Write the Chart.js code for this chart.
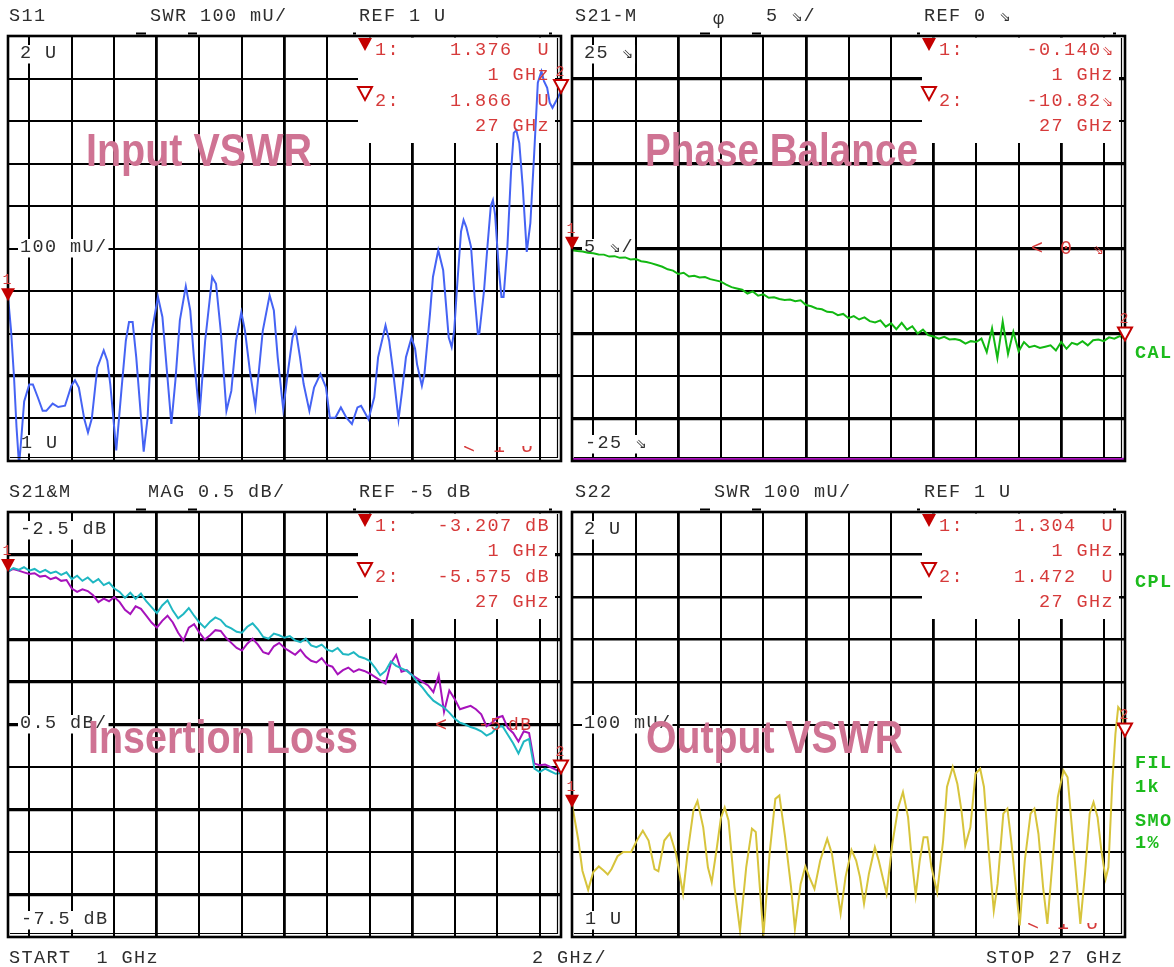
<!DOCTYPE html>
<html><head><meta charset="utf-8">
<script src="https://cdn.jsdelivr.net/npm/chart.js@4/dist/chart.umd.min.js"></script>
<style>
html,body{margin:0;padding:0;background:#fff;}
#page{position:relative;width:1174px;height:967px;overflow:hidden;background:#fff;}
canvas{position:absolute;z-index:1;}
.t{position:absolute;z-index:2;white-space:pre;font-family:"Liberation Mono","DejaVu Sans Mono",monospace;font-size:18.5px;letter-spacing:1.4px;color:#2e2e2e;line-height:1;}
.r{color:#d63a3a;}
.g{color:#1cbb1c;font-weight:bold;}
.big{font-family:"Liberation Sans",Arial,sans-serif;font-weight:bold;font-size:46px;letter-spacing:0;color:#cf7393;transform-origin:0 0;}
.clip{position:absolute;z-index:2;overflow:hidden;}
</style></head><body><div id="page"></div>
<script>
// ================= DATA =================
const freqGridGHz = [2,4,6,8,10,12,14,16,18,20,22,24,26];
const swrGridU = [1.1,1.2,1.3,1.4,1.5,1.6,1.7,1.8,1.9];
const phaseGridDeg = [-20,-15,-10,-5,0,5,10,15,20];
const magGridDb = [-7,-6.5,-6,-5.5,-5,-4.5,-4,-3.5,-3];

// Input VSWR (S11)
const s11Freq = [1,1.14,1.28,1.4,1.52,1.62,1.76,2,2.17,2.4,
 2.63,2.8,3.1,3.36,3.68,3.98,4.15,4.33,4.59,4.76,
 4.94,5.2,5.5,5.67,5.81,6.09,6.33,6.54,6.69,6.86,
 7.03,7.38,7.56,7.77,8.05,8.26,8.47,8.68,8.87,9.08,
 9.36,9.57,9.74,10,10.27,10.6,10.78,11,11.27,11.5,
 11.72,11.97,12.14,12.37,12.63,12.98,13.3,13.5,13.68,13.94,
 14.17,14.38,14.52,14.73,14.9,15.17,15.39,15.69,15.95,16.13,
 16.39,16.65,16.91,17.17,17.43,17.6,17.95,18.22,18.4,18.75,
 18.92,19.1,19.36,19.53,19.71,19.97,20.14,20.23,20.46,20.58,
 20.84,20.98,21.23,21.46,21.72,21.86,21.98,22.1,22.3,22.42,
 22.55,22.77,22.94,23.09,23.16,23.38,23.55,23.7,23.8,23.9,
 24.08,24.2,24.3,24.48,24.65,24.78,24.9,25.04,25.2,25.39,
 25.56,25.74,25.91,26.08,26.2,26.35,26.47,26.6,26.8,27];
const s11Swr = [1.386,1.31,1.2,1.08,0.99,1.05,1.14,1.18,1.18,1.15,
 1.118,1.118,1.135,1.127,1.13,1.177,1.19,1.173,1.098,1.067,
 1.1,1.22,1.26,1.236,1.18,1.025,1.165,1.283,1.327,1.327,
 1.244,1.022,1.1,1.307,1.386,1.339,1.213,1.087,1.189,1.331,
 1.411,1.354,1.244,1.106,1.283,1.433,1.417,1.307,1.118,1.165,
 1.283,1.35,1.307,1.213,1.127,1.307,1.39,1.354,1.244,1.122,
 1.213,1.291,1.311,1.244,1.181,1.118,1.173,1.205,1.173,1.102,
 1.102,1.126,1.102,1.087,1.126,1.13,1.098,1.15,1.244,1.319,
 1.283,1.213,1.098,1.165,1.244,1.29,1.264,1.228,1.177,1.205,
 1.346,1.433,1.496,1.449,1.291,1.268,1.307,1.4,1.54,1.567,
 1.55,1.504,1.386,1.299,1.3,1.4,1.51,1.6,1.614,1.58,
 1.449,1.386,1.386,1.504,1.68,1.772,1.778,1.748,1.646,1.492,
 1.56,1.724,1.89,1.917,1.894,1.878,1.843,1.831,1.85,1.87];

// common sweep for phase / insertion loss
const sweepFreqGHz = [1,1.25,1.5,1.75,2,2.25,2.5,2.75,3,3.25,3.5,3.75,4,4.25,4.5,4.75,5,5.25,5.5,5.75,
 6,6.25,6.5,6.75,7,7.25,7.5,7.75,8,8.25,8.5,8.75,9,9.25,9.5,9.75,10,10.25,10.5,10.75,
 11,11.25,11.5,11.75,12,12.25,12.5,12.75,13,13.25,13.5,13.75,14,14.25,14.5,14.75,15,15.25,15.5,15.75,
 16,16.25,16.5,16.75,17,17.25,17.5,17.75,18,18.25,18.5,18.75,19,19.25,19.5,19.75,20,20.25,20.5,20.75,
 21,21.25,21.5,21.75,22,22.25,22.5,22.75,23,23.25,23.5,23.75,24,24.25,24.5,24.75,25,25.25,25.5,25.75,
 26,26.25,26.5,26.75,27];

// Phase balance (S21-M phase, degrees)
const phaseDeg = [-0.20,-0.30,-0.35,-0.50, -0.55,-0.70,-0.72,-0.95, -0.90,-1.10,-1.05,-1.30, -1.25,-1.50,-1.60,-1.75,
 -1.95,-2.15,-2.45,-2.60, -3.00,-2.85,-3.30,-3.20, -3.40,-3.35,-3.60,-3.75, -3.90,-4.25,-4.55,-4.70,
 -4.85,-5.30,-5.05,-5.55, -5.40,-5.80,-5.75,-5.95, -6.05,-6.00,-6.20,-6.10, -6.65,-6.80,-7.05,-7.15,
 -7.45,-7.50,-7.85,-7.70, -8.20,-7.95,-8.35,-8.10, -8.55,-8.70,-8.45,-9.20, -8.80,-9.50,-8.75,-9.55,
 -9.15,-10.00,-9.55,-10.20, -10.35,-10.60,-10.40,-10.70, -10.65,-10.80,-11.20,-10.90, -11.00,-10.60,-12.20,-9.40,
 -12.90,-8.60,-12.40,-9.80, -12.10,-11.00,-11.60,-11.45, -11.70,-11.55,-11.40,-12.00, -11.00,-11.80,-11.10,-11.30,
 -10.90,-11.40,-10.80,-10.70, -10.90,-10.45,-10.60,-10.30, -10.60];
const refTraceFreq = [1, 27];
const refTraceDeg = [-24.8, -24.8];

// Insertion loss (dB)
const lossCyanDb = [-3.20,-3.16,-3.18,-3.15, -3.19,-3.17,-3.21,-3.18, -3.22,-3.20,-3.24,-3.21, -3.29,-3.25,-3.31,-3.27,
 -3.33,-3.29,-3.36,-3.33, -3.40,-3.44,-3.51,-3.45, -3.52,-3.46,-3.55,-3.62, -3.69,-3.60,-3.54,-3.66,
 -3.75,-3.70,-3.63,-3.72, -3.80,-3.86,-3.79,-3.74, -3.77,-3.84,-3.87,-3.91, -3.92,-3.85,-3.81,-3.88,
 -3.97,-3.99,-3.93,-3.95, -3.98,-3.96,-4.01,-4.03, -3.99,-4.07,-4.09,-4.06, -4.12,-4.14,-4.10,-4.17,
 -4.18,-4.15,-4.20,-4.22, -4.25,-4.33,-4.42,-4.37, -4.26,-4.31,-4.34,-4.37, -4.42,-4.50,-4.57,-4.65,
 -4.72,-4.76,-4.80,-4.86, -4.93,-4.98,-5.00,-5.03, -5.05,-5.08,-5.13,-5.10, -5.03,-5.02,-5.12,-5.22,
 -5.34,-5.20,-5.17,-5.52, -5.56,-5.52,-5.55,-5.58, -5.57];
const lossMagentaDb = [-3.20,-3.17,-3.19,-3.21, -3.23,-3.22,-3.26,-3.25, -3.29,-3.27,-3.31,-3.30, -3.40,-3.44,-3.41,-3.43,
 -3.48,-3.56,-3.52,-3.55, -3.50,-3.56,-3.65,-3.70, -3.61,-3.64,-3.72,-3.80, -3.86,-3.78,-3.72,-3.80,
 -3.92,-4.01,-3.86,-3.82, -3.92,-4.00,-3.95,-3.89, -3.90,-3.98,-4.04,-4.10, -4.13,-4.05,-3.99,-4.06,
 -4.15,-4.17,-4.08,-4.04, -4.10,-4.14,-4.18,-4.12, -4.20,-4.25,-4.27,-4.22, -4.30,-4.32,-4.41,-4.36,
 -4.33,-4.38,-4.35,-4.37, -4.40,-4.44,-4.48,-4.52, -4.28,-4.18,-4.38,-4.36, -4.42,-4.46,-4.50,-4.54,
 -4.62,-4.42,-4.85,-4.60, -4.70,-4.82,-4.80,-4.78, -4.82,-4.88,-5.02,-4.98, -4.92,-4.90,-5.04,-5.10,
 -5.20,-5.08,-5.10,-5.46, -5.48,-5.47,-5.50,-5.53, -5.56];

// Output VSWR (S22)
const s22Freq = [1,1.3,1.49,1.76,2,2.26,2.5,2.68,2.86,3.14,
 3.41,3.78,4.05,4.33,4.6,4.88,5.06,5.34,5.6,5.89,
 6.22,6.44,6.71,6.9,7.17,7.39,7.57,7.81,8,8.18,
 8.36,8.64,8.9,9.19,9.46,9.64,9.83,10,10.29,10.56,
 10.75,11.02,11.3,11.48,11.75,11.97,12.16,12.4,12.67,13,
 13.22,13.4,13.63,13.86,14.14,14.36,14.54,14.73,14.96,15.24,
 15.42,15.79,16.06,16.34,16.56,16.8,16.98,17.16,17.35,17.53,
 17.71,17.9,18.17,18.45,18.63,18.9,19.12,19.31,19.49,19.73,
 19.97,20.19,20.37,20.59,20.83,21.01,21.28,21.47,21.65,21.87,
 22.05,22.29,22.56,22.74,22.93,23.15,23.35,23.57,23.84,24.11,
 24.3,24.53,24.75,24.9,25.12,25.34,25.52,25.71,25.89,26.09,
 26.22,26.4,26.55,26.68,26.8,26.97];
const s22Swr = [1.313,1.227,1.156,1.111,1.153,1.166,1.156,1.147,1.16,1.19,
 1.2,1.2,1.227,1.25,1.227,1.16,1.155,1.227,1.244,1.196,
 1.102,1.2,1.298,1.32,1.258,1.164,1.129,1.21,1.28,1.305,
 1.274,1.117,1.015,1.164,1.255,1.247,1.117,1.003,1.196,1.325,
 1.333,1.235,1.117,1.019,1.125,1.166,1.141,1.113,1.18,1.231,
 1.196,1.133,1.055,1.141,1.205,1.18,1.141,1.078,1.149,1.211,
 1.18,1.102,1.219,1.305,1.341,1.282,1.18,1.098,1.18,1.235,
 1.235,1.164,1.105,1.227,1.353,1.4,1.36,1.298,1.215,1.258,
 1.384,1.396,1.353,1.203,1.062,1.125,1.29,1.302,1.227,1.117,
 1.027,1.18,1.29,1.302,1.243,1.117,1.031,1.164,1.329,1.392,
 1.376,1.243,1.117,1.031,1.149,1.29,1.317,1.282,1.203,1.137,
 1.164,1.36,1.478,1.541,1.533,1.5];

// Marker readouts
const markerFreq = [1, 27];
const s11Markers = [1.376, 1.866];
const phaseMarkers = [-0.140, -10.82];
const lossMarkers = [-3.207, -5.575];
const s22Markers = [1.304, 1.472];

// ================= RENDER =================
const page = document.getElementById('page');
const PAD = 16;

function pts(xs, ys){ return xs.map((x,i)=>({x:x, y:ys[i]})); }

// ---------- text helpers ----------
function T(str, x, base, cls, parent, size){
  const d = document.createElement('div');
  d.className = 't ' + (cls||'');
  d.textContent = str;
  if (size) d.style.fontSize = size+'px';
  (parent||page).appendChild(d);
  const m = document.createElement('span');
  m.style.cssText = 'display:inline-block;width:0;height:0;';
  d.appendChild(m);
  d.style.left = x+'px';
  d.style.top = (base - m.offsetTop)+'px';
  return d;
}
function Clip(str, x, base, y0, y1, cls){
  const w = document.createElement('div');
  w.className = 'clip';
  w.style.cssText = 'left:'+x+'px;top:'+y0+'px;width:30px;height:'+(y1-y0)+'px;';
  page.appendChild(w);
  T(str, 0, base-y0, cls, w, 20);
}
function Big(str, x, base, width){
  const d = T(str, x, base, 'big');
  const w = d.getBoundingClientRect().width;
  d.style.transform = 'scaleX('+(width/w)+')';
}
function fmt(v){ return Math.abs(v) >= 10 ? v.toFixed(2) : v.toFixed(3); }

const panels = [
  { key:'s11', left:8, top:36, w:553, h:425, ymin:1, ymax:2, grid:swrGridU, thickY:[1.2], thickX:[8,14,20],
    markers:s11Markers, scaleLabels:['2 U','100 mU/','1 U'], unit:'  U',
    datasets:[{data:pts(s11Freq,s11Swr), color:'#4563f4'}] },
  { key:'phase', left:572, top:36, w:553, h:425, ymin:-25, ymax:25, grid:phaseGridDeg, thickY:[20,10,0,-10,-20], thickX:[6,12,18,24],
    markers:phaseMarkers, scaleLabels:['25 ⇘','5 ⇘/','-25 ⇘'], unit:'⇘',
    datasets:[{data:pts(sweepFreqGHz,phaseDeg), color:'#12b812'},{data:pts(refTraceFreq,refTraceDeg), color:'#b010c4', width:3}] },
  { key:'loss', left:8, top:512, w:553, h:425, ymin:-7.5, ymax:-2.5, grid:magGridDb, thickY:[-3,-4,-4.5,-5,-6,-7], thickX:[8,14,20],
    markers:lossMarkers, scaleLabels:['-2.5 dB','0.5 dB/','-7.5 dB'], unit:' dB',
    datasets:[{data:pts(sweepFreqGHz,lossCyanDb), color:'#1fb7c2'},{data:pts(sweepFreqGHz,lossMagentaDb), color:'#a612bb'}] },
  { key:'s22', left:572, top:512, w:553, h:425, ymin:1, ymax:2, grid:swrGridU, thickY:[1.6,1.7,1.8,1.9], thickW:2.6, thickX:[6,12,18,24],
    markers:s22Markers, scaleLabels:['2 U','100 mU/','1 U'], unit:'  U',
    datasets:[{data:pts(s22Freq,s22Swr), color:'#d7c43c'}] }
];

// scale labels inside panels (white backing drawn on the canvas, under traces)
panels.forEach(p=>{
  const ds = [
    T(p.scaleLabels[0], p.left+12, p.top+22),
    T(p.scaleLabels[1], p.left+12, p.top+216),
    T(p.scaleLabels[2], p.left+13, p.top+412)
  ];
  p.labelRects = ds.map(d=>{
    const r = d.getBoundingClientRect();
    return {x:r.left-2-(p.left-PAD), y:r.top-(p.top-PAD), w:r.width+3, h:r.height};
  });
});

function drawTri(ctx, px, py, filled){
  ctx.beginPath();
  ctx.moveTo(px-7, py-13); ctx.lineTo(px+7, py-13); ctx.lineTo(px, py); ctx.closePath();
  if (filled){ ctx.fillStyle='#c40000'; ctx.fill(); }
  else { ctx.fillStyle='#fff'; ctx.fill(); ctx.strokeStyle='#c40000'; ctx.lineWidth=2; ctx.stroke(); }
}

const decorPlugin = {
  id:'decor',
  beforeDatasetsDraw(chart, args, o){
    const {ctx, chartArea:a} = chart;
    ctx.save();
    ctx.fillStyle='#fff';
    ctx.fillRect(a.left+350, a.top+1.5, 197, 105.5);
    (o.labels||[]).forEach(r=>ctx.fillRect(r.x, r.y, r.w, r.h));
    ctx.restore();
  },
  afterDatasetsDraw(chart, args, o){
    const {ctx, chartArea:a, scales} = chart;
    ctx.save();
    ctx.strokeStyle='#000';
    ctx.lineWidth=2.6;
    ctx.strokeRect(a.left, a.top, a.right-a.left, a.bottom-a.top);
    ctx.lineWidth=1.2;
    ctx.beginPath();
    ctx.moveTo(a.right-3.5, a.top+2); ctx.lineTo(a.right-3.5, a.bottom-3.5); ctx.lineTo(a.left+2, a.bottom-3.5);
    ctx.stroke();
    ctx.fillStyle='#000';
    [[128,10],[180,9],[345,3],[541,3]].forEach(([dx,w])=>ctx.fillRect(a.left+dx, a.top-3.5, w, 2));
    drawTri(ctx, a.left+357, a.top+15, true);
    drawTri(ctx, a.left+357, a.top+64, false);
    o.markers.forEach((v,i)=>{
      drawTri(ctx, scales.x.getPixelForValue(markerFreq[i]), scales.y.getPixelForValue(v), i===0);
    });
    ctx.restore();
  }
};

function makePanel(p){
  const c = document.createElement('canvas');
  c.width = p.w + 2*PAD; c.height = p.h + 2*PAD;
  c.style.left = (p.left-PAD)+'px'; c.style.top = (p.top-PAD)+'px';
  c.style.width = c.width+'px'; c.style.height = c.height+'px';
  page.appendChild(c);
  return new Chart(c, {
    type:'line',
    data:{ datasets: p.datasets.map(d=>({
      data:d.data, borderColor:d.color, borderWidth:d.width||2, pointRadius:0,
      tension:0, fill:false, parsing:false, normalized:true
    })) },
    options:{
      responsive:false, animation:false, devicePixelRatio:1,
      layout:{padding:PAD},
      plugins:{legend:{display:false}, tooltip:{enabled:false}, decor:{markers:p.markers, labels:p.labelRects}},
      scales:{
        x:{ type:'linear', min:1, max:27,
          afterBuildTicks: s=>{ s.ticks = freqGridGHz.map(v=>({value:v})); },
          afterFit: s=>{ s.height = 0; },
          ticks:{display:false}, border:{display:false},
          grid:{color:'#000', drawTicks:false, lineWidth: ctx => (p.thickX.includes(ctx.tick && ctx.tick.value) ? 2.8 : 2)} },
        y:{ type:'linear', min:p.ymin, max:p.ymax,
          afterBuildTicks: s=>{ s.ticks = p.grid.map(v=>({value:v})); },
          afterFit: s=>{ s.width = 0; },
          ticks:{display:false}, border:{display:false},
          grid:{color:'#000', drawTicks:false, lineWidth: ctx => (p.thickY.includes(ctx.tick && ctx.tick.value) ? (p.thickW||3.2) : 2)} }
      }
    },
    plugins:[decorPlugin]
  });
}

const charts = panels.map(makePanel);

// headers / footers
T('S11', 9, 21); T('SWR 100 mU/', 150, 21); T('REF 1 U', 359, 21);
T('S21-M', 575, 21); T('φ', 713, 24); T('5 ⇘/', 766, 21); T('REF 0 ⇘', 924, 21);
T('S21&M', 9, 497); T('MAG 0.5 dB/', 148, 497); T('REF -5 dB', 359, 497);
T('S22', 575, 497); T('SWR 100 mU/', 714, 497); T('REF 1 U', 924, 497);
T('START  1 GHz', 9, 963); T('2 GHz/', 532, 963); T('STOP 27 GHz', 986, 963);

// marker readouts + marker numbers
panels.forEach((p,i)=>{
  const m = p.markers;
  const x0 = p.left + 367;
  T('1:' + (fmt(m[0]) + p.unit).padStart(12,' '), x0, p.top+19, 'r');
  T((markerFreq[0]+' GHz').padStart(14,' '), x0, p.top+44, 'r');
  T('2:' + (fmt(m[1]) + p.unit).padStart(12,' '), x0, p.top+69.5, 'r');
  T((markerFreq[1]+' GHz').padStart(14,' '), x0, p.top+94.5, 'r');
  const ch = charts[i];
  m.forEach((v,k)=>{
    const px = p.left - PAD + ch.scales.x.getPixelForValue(markerFreq[k]);
    const py = p.top - PAD + ch.scales.y.getPixelForValue(v);
    const d = T(String(k+1), 0, py-17, 'r', null, 15);
    d.style.letterSpacing = '0';
    d.style.left = (px - d.getBoundingClientRect().width/2 - 1)+'px';
  });
});

// reference-level indicators
T('<', 1031, 254, 'r', null, 20); T('0', 1060, 254, 'r', null, 20); T('⇘', 1093, 254, 'r', null, 18);
T('<', 435, 731, 'r', null, 20); T('-5', 478, 730, 'r', null, 18); T('dB', 508, 730, 'r', null, 18);
Clip('<', 463, 453, 446, 454, 'r'); Clip('1', 493, 452, 447, 453, 'r'); Clip('U', 521, 452, 446, 452, 'r');
Clip('<', 1027, 930, 923, 931, 'r'); Clip('1', 1057, 929, 924, 930, 'r'); Clip('U', 1086, 929, 923, 929, 'r');

// status labels
T('CAL', 1135, 358, 'g'); T('CPL', 1135, 587, 'g');
T('FIL', 1135, 768, 'g'); T('1k', 1135, 792, 'g');
T('SMO', 1135, 826, 'g'); T('1%', 1135, 848, 'g');

// big titles
Big('Input VSWR', 86, 166, 226);
Big('Phase Balance', 645, 166, 273);
Big('Insertion Loss', 88, 753, 270);
Big('Output VSWR', 646, 753, 257);
</script></body></html>
